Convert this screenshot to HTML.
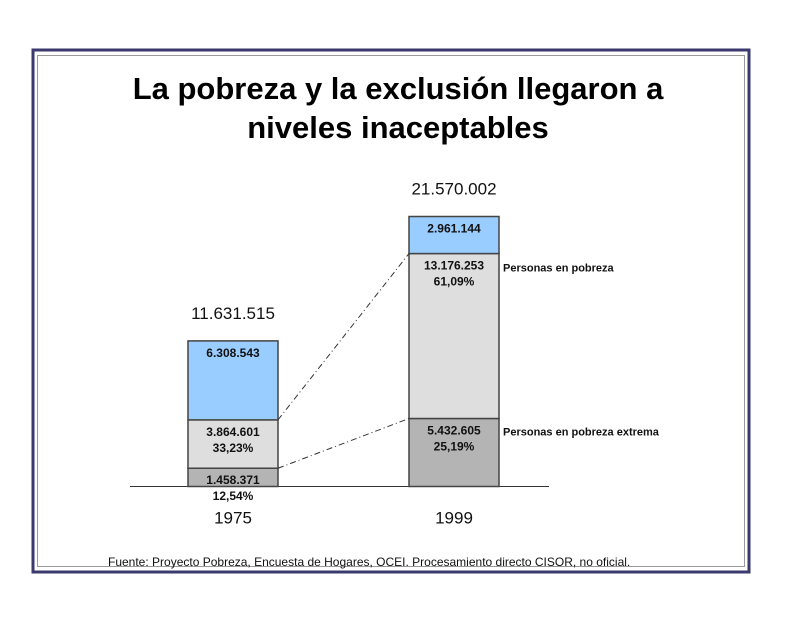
<!DOCTYPE html>
<html><head><meta charset="utf-8"><style>
html,body{margin:0;padding:0;background:#fff;}
svg{display:block;font-family:"Liberation Sans",Arial,sans-serif;}
</style></head><body>
<svg width="800" height="618" viewBox="0 0 800 618">
<rect x="33" y="50" width="716" height="522" fill="none" stroke="#3a3a6e" stroke-width="3"/>
<rect x="37.5" y="55.5" width="707" height="511" fill="none" stroke="#999" stroke-width="1"/>
<text x="398" y="99" text-anchor="middle" font-size="31" font-weight="bold" fill="#000">La pobreza y la exclusión llegaron a</text>
<text x="398" y="138" text-anchor="middle" font-size="31" font-weight="bold" fill="#000">niveles inaceptables</text>
<line x1="130" y1="486.5" x2="549" y2="486.5" stroke="#333" stroke-width="1"/>
<g id="bars"></g>
<text x="108" y="566" font-size="12" fill="#111">Fuente: Proyecto Pobreza, Encuesta de Hogares, OCEI. Procesamiento directo CISOR, no oficial.</text>
</svg>
<script>
const years = ["1975","1999"];
const totals = [11631515, 21570002];
const extreme = [1458371, 5432605];
const poverty = [3864601, 13176253];
const nonPoor = [6308543, 2961144];
const totalLabels = ["11.631.515","21.570.002"];
const extremeLabels = [["1.458.371","12,54%"],["5.432.605","25,19%"]];
const povertyLabels = [["3.864.601","33,23%"],["13.176.253","61,09%"]];
const nonPoorLabels = [["6.308.543"],["2.961.144"]];

const NS="http://www.w3.org/2000/svg";
const base=486.5, pxPerUnit=270/21570002;
const barW=90, barX=[188,409];
function y(v){return base - v*pxPerUnit;}
const g=document.getElementById('bars');
function mk(tag,attrs){const e=document.createElementNS(NS,tag);for(const k in attrs)e.setAttribute(k,attrs[k]);g.appendChild(e);return e;}
const segs=[
 {vals:extreme,fill:"#b4b4b4",labels:extremeLabels,name:"extreme-poverty"},
 {vals:poverty,fill:"#dedede",labels:povertyLabels,name:"poverty"},
 {vals:nonPoor,fill:"#99ccff",labels:nonPoorLabels,name:"non-poor"}
];
const tops=[[],[]];
years.forEach((yr,i)=>{
  let cum=0;
  segs.forEach((s,si)=>{
    const y0=y(cum), y1=y(cum+s.vals[i]); cum+=s.vals[i];
    tops[i][si]=y1;
    const r=mk('rect',{x:barX[i],y:y1,width:barW,height:y0-y1,fill:s.fill,stroke:"#444","stroke-width":1.5});
    
    
    s.labels[i].forEach((l,li)=>{
      const t=mk('text',{x:barX[i]+barW/2,y:y1+16+li*16,"text-anchor":"middle","font-size":12,"font-weight":"bold",fill:"#111"});
      t.textContent=l;
      
      
    });
  });
  const tt=mk('text',{x:barX[i]+barW/2,y:y(totals[i])-22,"text-anchor":"middle","font-size":17,fill:"#111"});
  tt.textContent=totalLabels[i];
  
  
  const xl=mk('text',{x:barX[i]+barW/2,y:base+37,"text-anchor":"middle","font-size":17,fill:"#111"});
  xl.textContent=yr;
  
  
});
[0,1].forEach(si=>{
  const l=mk('line',{x1:barX[0]+barW,y1:tops[0][si],x2:barX[1],y2:tops[1][si],stroke:"#333","stroke-width":1,"stroke-dasharray":"6,3,1,3"});
  
  
});
const legend=[["Personas en pobreza",tops[1][1]+18],["Personas en pobreza extrema",tops[1][0]+17]];
legend.forEach((lg,k)=>{
  const t=mk('text',{x:503,y:lg[1],"font-size":11,"font-weight":"bold",fill:"#111"});
  t.textContent=lg[0];
  
  
});
</script>
</body></html>
